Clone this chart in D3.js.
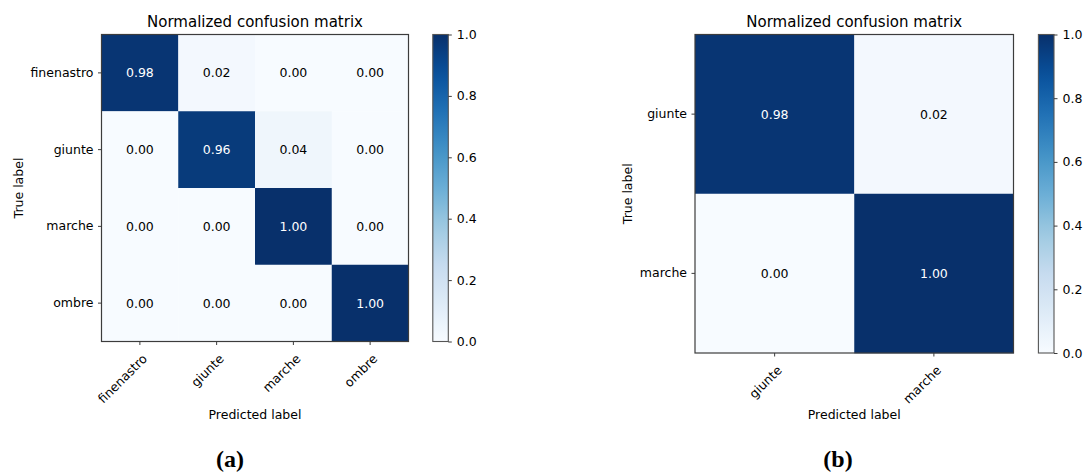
<!DOCTYPE html>
<html>
<head>
<meta charset="utf-8">
<script src="https://cdn.jsdelivr.net/npm/d3@7"></script>
<style>
  html, body { margin: 0; padding: 0; background: #ffffff; }
  svg { display: block; }
  text { font-family: "DejaVu Sans", sans-serif; fill: #000; }
  text.panel { font-family: "Liberation Serif", "Times New Roman", serif; font-weight: bold; }
</style>
</head>
<body>
<svg id="chart" width="1084" height="474"></svg>
<script>
// ---- data ----
const classesA = ["finenastro", "giunte", "marche", "ombre"];
const matrixA = [
  [0.98, 0.02, 0.00, 0.00],
  [0.00, 0.96, 0.04, 0.00],
  [0.00, 0.00, 1.00, 0.00],
  [0.00, 0.00, 0.00, 1.00]
];
const classesB = ["giunte", "marche"];
const matrixB = [
  [0.98, 0.02],
  [0.00, 1.00]
];
const colorbarTicks = [0.0, 0.2, 0.4, 0.6, 0.8, 1.0];
const chartTitle = "Normalized confusion matrix";
const xAxisTitle = "Predicted label";
const yAxisTitle = "True label";
const panelLabels = ["(a)", "(b)"];

// Blues colormap: piecewise-linear through the ColorBrewer stops
const bluesStops = ["#f7fbff", "#deebf7", "#c6dbef", "#9ecae1", "#6baed6",
                    "#4292c6", "#2171b5", "#08519c", "#08306b"];
const blues = d3.scaleLinear()
  .domain(bluesStops.map((_, i) => i / (bluesStops.length - 1)))
  .range(bluesStops)
  .interpolate(d3.interpolateRgb)
  .clamp(true);

const svg = d3.select("#chart");
const defs = svg.append("defs");
const grad = defs.append("linearGradient")
  .attr("id", "bluesGrad")
  .attr("x1", 0).attr("y1", 1).attr("x2", 0).attr("y2", 0);
d3.range(0, 1.0001, 0.05).forEach(t => {
  grad.append("stop").attr("offset", t).attr("stop-color", blues(t));
});

const spineColor = "#3c3c3c";
const tickFont = 12.5;

function drawMatrix(cfg) {
  const { classes, matrix, left, top, size, cbLeft, cbWidth, panelLabel, labelX, yTitleX } = cfg;
  const g = svg.append("g");
  const x = d3.scaleBand().domain(classes).range([left, left + size]);
  const y = d3.scaleBand().domain(classes).range([top, top + size]);
  const thresh = d3.max(matrix.flat()) / 2;

  const cells = [];
  matrix.forEach((row, i) => row.forEach((v, j) => cells.push({ r: classes[i], c: classes[j], v })));

  g.selectAll("rect.cell").data(cells).join("rect")
    .attr("class", "cell")
    .attr("x", d => x(d.c))
    .attr("y", d => y(d.r))
    .attr("width", x.bandwidth() + 0.3)
    .attr("height", y.bandwidth() + 0.3)
    .attr("fill", d => blues(d.v));

  g.selectAll("text.val").data(cells).join("text")
    .attr("class", "val")
    .attr("x", d => x(d.c) + x.bandwidth() / 2)
    .attr("y", d => y(d.r) + y.bandwidth() / 2)
    .attr("text-anchor", "middle")
    .attr("dominant-baseline", "central")
    .attr("font-size", tickFont)
    .style("fill", d => d.v > thresh ? "#ffffff" : "#000000")
    .text(d => d.v.toFixed(2));

  // frame
  g.append("rect")
    .attr("x", left).attr("y", top)
    .attr("width", size).attr("height", size)
    .attr("fill", "none").attr("stroke", spineColor).attr("stroke-width", 1.2);

  // y axis
  const yAxis = g.append("g")
    .attr("transform", `translate(${left},0)`)
    .call(d3.axisLeft(y).tickSize(3.5).tickPadding(4.5));
  yAxis.select(".domain").remove();
  yAxis.selectAll(".tick line").attr("stroke", spineColor);
  yAxis.selectAll(".tick text").attr("font-size", tickFont);

  // x axis with rotated labels
  const xAxis = g.append("g")
    .attr("transform", `translate(0,${top + size})`)
    .call(d3.axisBottom(x).tickSize(3.5));
  xAxis.select(".domain").remove();
  xAxis.selectAll(".tick line").attr("stroke", spineColor);
  xAxis.selectAll(".tick text")
    .attr("font-size", tickFont)
    .attr("text-anchor", "end")
    .attr("x", 0).attr("y", 0).attr("dy", 0)
    .attr("transform", "translate(8,18) rotate(-45)");

  // titles
  g.append("text")
    .attr("x", left + size / 2).attr("y", top - 7.5)
    .attr("text-anchor", "middle").attr("font-size", 15)
    .text(chartTitle);
  g.append("text")
    .attr("x", left + size / 2).attr("y", 419)
    .attr("text-anchor", "middle").attr("font-size", tickFont)
    .text(xAxisTitle);
  g.append("text")
    .attr("transform", `translate(${yTitleX},${top + size / 2}) rotate(-90)`)
    .attr("text-anchor", "middle").attr("font-size", tickFont)
    .text(yAxisTitle);

  // colorbar
  const cb = d3.scaleLinear().domain([0, 1]).range([top + size, top]);
  g.append("rect")
    .attr("x", cbLeft).attr("y", top)
    .attr("width", cbWidth).attr("height", size)
    .attr("fill", "url(#bluesGrad)")
    .attr("stroke", "#555").attr("stroke-width", 1.1);
  const cbAxis = g.append("g")
    .attr("transform", `translate(${cbLeft + cbWidth},0)`)
    .call(d3.axisRight(cb).tickValues(colorbarTicks).tickFormat(d3.format(".1f")).tickSize(3.5).tickPadding(5));
  cbAxis.select(".domain").remove();
  cbAxis.selectAll(".tick line").attr("stroke", spineColor);
  cbAxis.selectAll(".tick text").attr("font-size", tickFont);

  // panel label
  g.append("text")
    .attr("class", "panel")
    .attr("x", labelX).attr("y", 467)
    .attr("text-anchor", "middle")
    .attr("font-size", 24)
    .text(panelLabel);
}

drawMatrix({ classes: classesA, matrix: matrixA, left: 101.5, top: 34.5, size: 307,
             cbLeft: 432.8, cbWidth: 15.5, panelLabel: panelLabels[0], labelX: 230, yTitleX: 23 });
drawMatrix({ classes: classesB, matrix: matrixB, left: 695, top: 34.5, size: 318.5,
             cbLeft: 1038.4, cbWidth: 15.6, panelLabel: panelLabels[1], labelX: 838, yTitleX: 632 });
</script>
</body>
</html>
